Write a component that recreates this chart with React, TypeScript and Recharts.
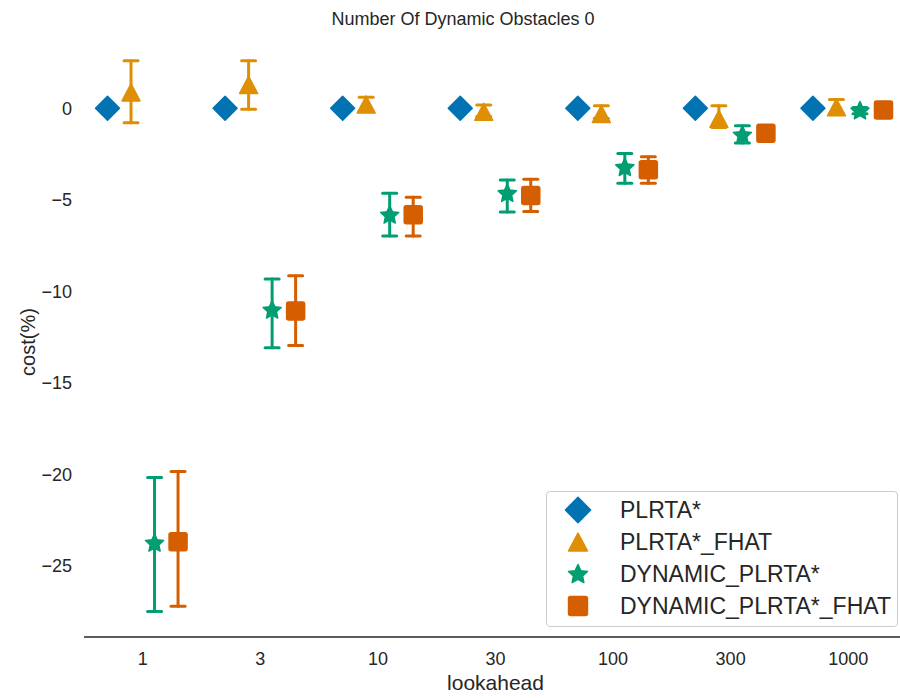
import React from "react";
import {
  ScatterChart, Scatter, XAxis, YAxis, ErrorBar, Legend,
} from "recharts";

// lookahead categories
const lookaheads = ["1", "3", "10", "30", "100", "300", "1000"];

// mean cost (%) and confidence interval bounds per series
const plrta = [0, 0, 0, 0, 0, 0, 0];

const plrtaFhat = [0.86, 1.27, 0.2, -0.2, -0.32, -0.58, 0.05];
const plrtaFhatLo = [-0.79, -0.06, -0.15, -0.45, -0.55, -1.05, -0.3];
const plrtaFhatHi = [2.59, 2.59, 0.6, 0.17, 0.14, 0.14, 0.48];

const dynamic = [-23.76, -11.02, -5.83, -4.65, -3.23, -1.46, -0.13];
const dynamicLo = [-27.5, -13.09, -6.98, -5.68, -4.1, -1.9, -0.3];
const dynamicHi = [-20.18, -9.33, -4.65, -3.92, -2.47, -0.96, 0.04];

const dynamicFhat = [-23.7, -11.09, -5.82, -4.77, -3.37, -1.37, -0.1];
const dynamicFhatLo = [-27.22, -12.97, -6.98, -5.65, -4.1, -1.7, -0.25];
const dynamicFhatHi = [-19.85, -9.16, -4.87, -3.88, -2.65, -1.05, 0.05];

const yTicks = [-25, -20, -15, -10, -5, 0];

const INK = "#262626";
const FONT = "'Liberation Sans', Arial, sans-serif";

type Shape = "diamond" | "triangle" | "star" | "square";

const series = [
  { name: "PLRTA*", color: "#0173b2", shape: "diamond" as Shape, values: plrta, lo: null as number[] | null, hi: null as number[] | null, dodge: -0.3 },
  { name: "PLRTA*_FHAT", color: "#de8f05", shape: "triangle" as Shape, values: plrtaFhat, lo: plrtaFhatLo, hi: plrtaFhatHi, dodge: -0.1 },
  { name: "DYNAMIC_PLRTA*", color: "#029e73", shape: "star" as Shape, values: dynamic, lo: dynamicLo, hi: dynamicHi, dodge: 0.1 },
  { name: "DYNAMIC_PLRTA*_FHAT", color: "#d55e00", shape: "square" as Shape, values: dynamicFhat, lo: dynamicFhatLo, hi: dynamicFhatHi, dodge: 0.3 },
];

function starPath(cx: number, cy: number, r: number) {
  const pts: string[] = [];
  for (let i = 0; i < 10; i++) {
    const rad = i % 2 === 0 ? r : r * 0.48;
    const a = -Math.PI / 2 + (i * Math.PI) / 5;
    pts.push(`${cx + rad * Math.cos(a)},${cy + rad * Math.sin(a)}`);
  }
  return "M" + pts.join("L") + "Z";
}

function Marker({ shape, cx, cy, color, scale = 1 }: { shape: Shape; cx: number; cy: number; color: string; scale?: number }) {
  const common = { fill: color, stroke: color, strokeWidth: 1.5, strokeLinejoin: "round" as const };
  if (shape === "diamond") {
    const r = 12 * scale;
    return <path d={`M${cx},${cy - r}L${cx + r},${cy}L${cx},${cy + r}L${cx - r},${cy}Z`} {...common} />;
  }
  if (shape === "triangle") {
    const w = 9 * scale, h = 8.5 * scale;
    return <path d={`M${cx},${cy - h}L${cx + w},${cy + h}L${cx - w},${cy + h}Z`} {...common} />;
  }
  if (shape === "star") {
    return <path d={starPath(cx, cy + 0.5, 9.5 * scale)} {...common} />;
  }
  const s = 9 * scale;
  return <rect x={cx - s} y={cy - s} width={2 * s} height={2 * s} rx={2} {...common} />;
}

const LegendBox = () => (
  <div
    style={{
      width: 352, height: 136, boxSizing: "border-box", border: "1px solid #cccccc",
      borderRadius: 4, background: "rgba(255,255,255,0.8)", paddingTop: 2, fontFamily: FONT,
    }}
  >
    {series.map((s) => (
      <div key={s.name} style={{ display: "flex", alignItems: "center", height: 32 }}>
        <svg width={30} height={30} style={{ marginLeft: 16, flex: "none" }}>
          <Marker shape={s.shape} cx={15} cy={15} color={s.color} scale={1.05} />
        </svg>
        <span style={{ marginLeft: 27, fontSize: 23, lineHeight: "32px", color: INK }}>{s.name}</span>
      </div>
    ))}
  </div>
);

const fmt = (v: number) => (v < 0 ? "\u2212" + Math.abs(v) : String(v));

export default function App() {
  const data = series.map((s) =>
    s.values.map((v, i) => ({
      x: i + s.dodge,
      y: v,
      err: s.lo && s.hi ? [v - s.lo[i], s.hi[i] - v] : [0, 0],
    }))
  );

  return (
    <div style={{ position: "absolute", left: 0, top: 0, width: 900, height: 698, overflow: "hidden", background: "#fff", fontFamily: FONT }}>
      <div style={{ position: "absolute", left: 263, top: 9, width: 400, textAlign: "center", fontSize: 18, color: INK }}>
        Number Of Dynamic Obstacles 0
      </div>
      <div
        style={{
          position: "absolute", left: 28 - 100, top: 342 - 12, width: 200, height: 24, lineHeight: "24px",
          textAlign: "center", fontSize: 20, color: INK, transform: "rotate(-90deg)",
        }}
      >
        cost(%)
      </div>
      <ScatterChart width={910} height={698} margin={{ top: 35, right: 3, left: 0, bottom: 0 }}>
        <XAxis
          type="number"
          dataKey="x"
          domain={[-0.5, 6.5]}
          ticks={[0, 1, 2, 3, 4, 5, 6]}
          tickFormatter={(i: number) => lookaheads[i]}
          height={61}
          tickLine={false}
          axisLine={{ stroke: INK, strokeWidth: 1.5 }}
          tickMargin={9}
          tick={{ fill: INK, fontSize: 18 }}
          label={{ value: "lookahead", position: "insideBottom", offset: 8, fill: INK, fontSize: 21 }}
          allowDataOverflow
        />
        <YAxis
          type="number"
          dataKey="y"
          domain={[-28.9, 4.0]}
          ticks={yTicks}
          tickFormatter={fmt}
          width={84}
          axisLine={false}
          tickLine={false}
          tickMargin={6}
          tick={{ fill: INK, fontSize: 18 }}
          allowDataOverflow
        />
        <Legend
          layout="vertical"
          align="center"
          verticalAlign="middle"
          content={() => <LegendBox />}
          wrapperStyle={{ left: 546, top: 491, width: 352, height: 136 }}
        />
        {series.map((s, k) => (
          <Scatter
            key={s.name}
            name={s.name}
            data={data[k]}
            fill={s.color}
            isAnimationActive={false}
            shape={(p: any) => <Marker shape={s.shape} cx={p.cx} cy={p.cy} color={s.color} />}
          >
            {s.lo && (
              <ErrorBar dataKey="err" direction="y" width={7} strokeWidth={3} stroke={s.color} strokeLinecap="round" />
            )}
          </Scatter>
        ))}
      </ScatterChart>
    </div>
  );
}
